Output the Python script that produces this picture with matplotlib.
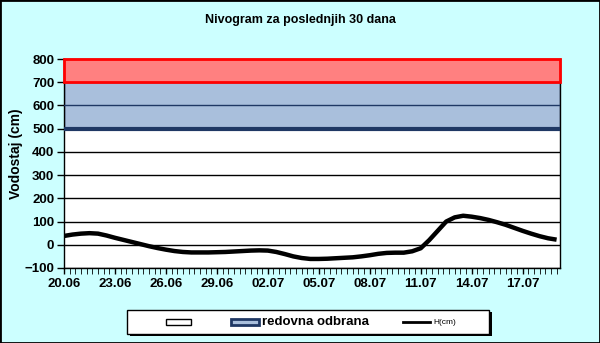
import matplotlib
matplotlib.use("Agg")
import matplotlib.pyplot as plt
from matplotlib.patches import Rectangle
from matplotlib.lines import Line2D
from matplotlib.ticker import MultipleLocator

plt.rcParams["font.family"] = ["Liberation Sans", "DejaVu Sans"]
plt.rcParams["font.weight"] = "bold"

# water level H(cm), read twice a day from 20.06
days = [i * 0.5 for i in range(59)]
level = [38, 44, 48, 50, 48, 40, 30, 21, 12, 3,
         -6, -14, -21, -27, -31, -33, -33, -33, -32, -31,
         -29, -27, -25, -24, -25, -31, -40, -50, -57, -61,
         -61, -60, -58, -56, -54, -50, -45, -39, -35, -34,
         -34, -28, -15, 20, 60, 100, 118, 125, 121, 115,
         107, 97, 86, 73, 60, 48, 37, 28, 22]

date_labels = ["20.06", "23.06", "26.06", "29.06", "02.07",
               "05.07", "08.07", "11.07", "14.07", "17.07"]
date_pos = [3 * i for i in range(len(date_labels))]

# defence zones (lower, upper)
redovna = (500, 700)
vanredna = (700, 800)

W, H = 600, 343
fig = plt.figure(figsize=(W / 100, H / 100), dpi=100, facecolor="#ccffff")
ax = fig.add_axes([64 / W, 1 - 268 / H, 496 / W, 209 / H])
ax.set_facecolor("white")

xmax = 29.2
ax.set_xlim(0, xmax)
ax.set_ylim(-100, 800)

for y in range(-100, 801, 100):
    ax.axhline(y, color="black", lw=1, zorder=1)

ax.add_patch(Rectangle((0, redovna[0]), xmax, redovna[1] - redovna[0],
                       facecolor="#a9bfdc", edgecolor="#1f3864", lw=1, zorder=2))
ax.axhline(600, color="#1f3864", lw=1, zorder=3)
ax.axhline(redovna[0], color="#1f3864", lw=3, zorder=3)
ax.add_patch(Rectangle((0, vanredna[0]), xmax, vanredna[1] - vanredna[0],
                       facecolor="#ff8080", edgecolor="#ff0000", lw=2, zorder=4,
                       clip_on=False))

ax.plot(days, level, color="black", lw=3.2, solid_capstyle="butt", zorder=5)

ax.set_xticks(date_pos)
ax.set_xticklabels(date_labels)
ax.xaxis.set_minor_locator(MultipleLocator(1 / 3))
ax.yaxis.set_major_locator(MultipleLocator(100))
ax.tick_params(axis="both", labelsize=9.5, direction="out", width=1, color="black")
ax.tick_params(axis="x", which="major", length=4, pad=3)
ax.tick_params(axis="x", which="minor", length=4)
ax.tick_params(axis="y", length=5, pad=2)
for s in ax.spines.values():
    s.set_color("black")
    s.set_linewidth(1)


def fx(px):
    return px / W


def fy(py):
    return 1 - py / H


fig.text(fx(16), fy(154), "Vodostaj (cm)", rotation=90, ha="center", va="center",
         fontsize=10, fontweight="bold")
fig.text(0.5, fy(20), "Nivogram za poslednjih 30 dana", ha="center", va="center",
         fontsize=9, fontweight="bold")

# legend box drawn in figure pixels
fig.add_artist(Rectangle((fx(130), fy(336)), 362 / W, 24 / H, transform=fig.transFigure,
                         facecolor="black", edgecolor="black", lw=0))
fig.add_artist(Rectangle((fx(127), fy(334)), 362 / W, 24 / H, transform=fig.transFigure,
                         facecolor="white", edgecolor="black", lw=1))
ly = 322
fig.add_artist(Rectangle((fx(166), fy(ly + 3)), 25 / W, 6 / H, transform=fig.transFigure,
                         facecolor="white", edgecolor="black", lw=1))
fig.add_artist(Rectangle((fx(231), fy(ly + 3)), 28 / W, 6 / H, transform=fig.transFigure,
                         facecolor="#a9bfdc", edgecolor="#1f3864", lw=2))
fig.text(fx(262), fy(ly), "redovna odbrana", ha="left", va="center", fontsize=9.5,
         fontweight="bold")
fig.add_artist(Line2D([fx(403), fx(430)], [fy(ly), fy(ly)], transform=fig.transFigure,
                      color="black", lw=2))
fig.text(fx(433), fy(ly), "H(cm)", ha="left", va="center", fontsize=6,
         fontweight="normal")

fig.add_artist(Rectangle((0, 0), 1, 1, transform=fig.transFigure, fill=False,
                         edgecolor="black", lw=2))

fig.savefig("out.png", dpi=100, facecolor=fig.get_facecolor())
